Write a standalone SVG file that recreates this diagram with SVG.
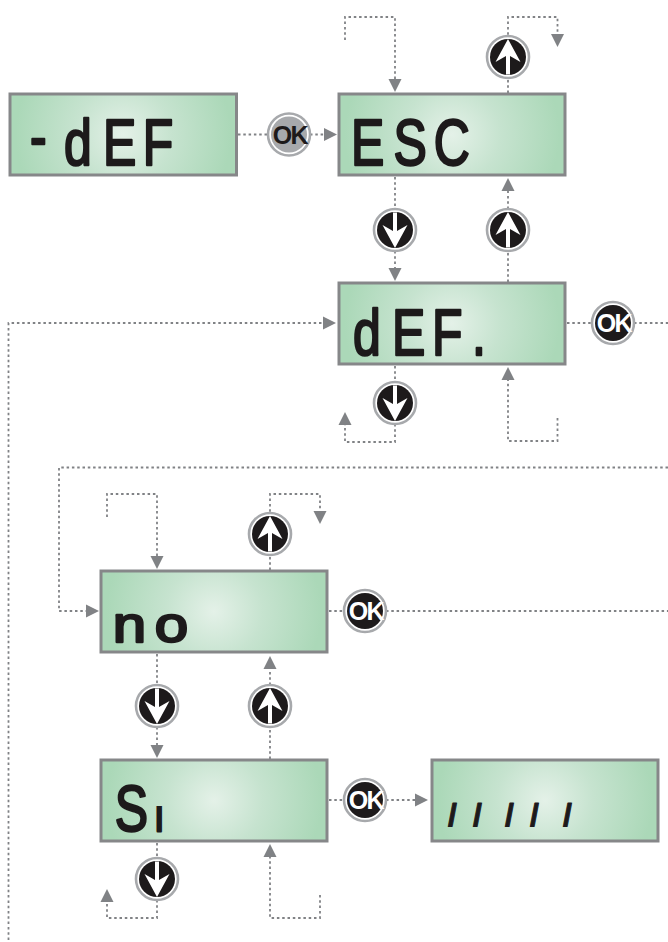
<svg xmlns="http://www.w3.org/2000/svg" width="668" height="942" viewBox="0 0 668 942">
<style>
.lcd{fill:url(#lcdg);stroke:#868789;stroke-width:3}
.seg{font-family:"Liberation Sans",Arial,sans-serif;font-weight:400;font-size:64px;fill:#1d1a1b;stroke:#1d1a1b;stroke-width:2.4;stroke-linejoin:round}
.ok{font-family:"Liberation Sans",Arial,sans-serif;font-weight:700;font-size:25px;letter-spacing:-1.6px;text-anchor:middle}
.dot{fill:none;stroke:#808285;stroke-width:1.8;stroke-dasharray:2.5 2.8}
.arr{marker-end:url(#ah)}
</style>
<defs>
<radialGradient id="lcdg" cx=".5" cy=".5" r=".5" gradientTransform="translate(.5 .5) scale(.95 2.6) translate(-.5 -.5)">
<stop offset="0" stop-color="#e4f1e8"/><stop offset=".45" stop-color="#c6e3cf"/><stop offset="1" stop-color="#abd8b8"/>
</radialGradient>
<marker id="ah" markerUnits="userSpaceOnUse" markerWidth="14" markerHeight="14" refX="0" refY="7" orient="auto"><path d="M0 .5L13 7L0 13.5Z" fill="#808285"/></marker>
<clipPath id="nodot"><rect x="100" y="770" width="52" height="70"/><rect x="152" y="806" width="18" height="34"/></clipPath>
<g id="ring"><circle r="21" fill="#fff" stroke="#a7a9ac" stroke-width="2.600"/></g>
<g id="btn"><use href="#ring"/><circle r="18" fill="#1d1a1b"/></g>
<g id="up"><use href="#btn"/><path d="M0-18L12.5 5L2-1V17.5H-2V-1L-12.5 5Z" fill="#fff"/></g>
<g id="down"><use href="#btn"/><path d="M0 18L12.5-5L2 1V-17.5H-2V1L-12.5-5Z" fill="#fff"/></g>
</defs>
<g id="connectors">
<path class="dot" d="M238 134.500H268"/><path class="dot arr" d="M310 134.500H324"/>
<path class="dot arr" d="M345 40V17H395V79"/>
<path class="dot arr" d="M508 93V17H557.500V34"/>
<path class="dot" d="M395 177V209"/><path class="dot arr" d="M395 251V268"/>
<path class="dot" d="M508 282V251"/><path class="dot arr" d="M508 209V191"/>
<path class="dot" d="M567 323H592M634 323H668"/>
<path class="dot arr" d="M8.500 940V323H323"/>
<path class="dot" d="M395 366V382"/><path class="dot arr" d="M395 424V442H345V425"/>
<path class="dot arr" d="M557.500 418V441H508V380"/>
<path class="dot arr" d="M668 467.500H59V611H86"/>
<path class="dot arr" d="M107 517V494H157V556"/>
<path class="dot arr" d="M270 570V494H320V511"/>
<path class="dot" d="M329 611H344M386 611H668"/>
<path class="dot" d="M157 654V685"/><path class="dot arr" d="M157 727V745"/>
<path class="dot" d="M270 759V727"/><path class="dot arr" d="M270 685V669"/>
<path class="dot" d="M329 800H344"/><path class="dot arr" d="M386 800H415"/>
<path class="dot" d="M157 843V858"/><path class="dot arr" d="M157 900V918H107V902"/>
<path class="dot arr" d="M320 895V918H270V857"/>
</g>
<g id="lcd-def-menu"><rect class="lcd" x="10" y="94" width="226.500" height="81"/><text class="seg" transform="translate(0 165) scale(.78 1)" x="38.500 82 132 183" dy="-6 6 0 0">-dEF</text></g>
<g id="lcd-esc"><rect class="lcd" x="339" y="94" width="226" height="81"/><text class="seg" transform="translate(0 165) scale(.78 1)" x="450 504.500 556">ESC</text></g>
<g id="lcd-def"><rect class="lcd" x="339" y="283" width="226" height="81"/><text class="seg" transform="translate(0 354.500) scale(.78 1)" x="452.500 502.500 554 605">dEF.</text></g>
<g id="lcd-no"><rect class="lcd" x="101" y="571" width="226" height="81"/><text class="seg" style="font-size:50px" transform="translate(0 642) scale(1.2 1)" x="94 129">no</text></g>
<g id="lcd-si"><rect class="lcd" x="101" y="760" width="226" height="81"/><g clip-path="url(#nodot)"><text class="seg" transform="translate(0 831) scale(.78 1)" x="147"><tspan>S</tspan><tspan x="199" style="font-size:46px;stroke-width:3">i</tspan></text></g></g>
<g id="lcd-progress"><rect class="lcd" x="432" y="760" width="226" height="81"/><text class="seg" style="font-size:32px;font-weight:700;stroke-width:1" x="448 473 505 530 563" y="826">/////</text></g>
<g id="btn-ok-grey"><use href="#ring" x="289" y="134.500"/><circle cx="289" cy="134.500" r="18" fill="#a7a9ac"/><text class="ok" x="289.800" y="143.500" fill="#1d1a1b">OK</text></g>
<g id="btn-up-1"><use href="#up" x="508" y="57"/></g>
<g id="btn-down-1"><use href="#down" x="395" y="230"/></g>
<g id="btn-up-2"><use href="#up" x="508" y="230"/></g>
<g id="btn-ok-1"><use href="#btn" x="613" y="323"/><text class="ok" x="613.800" y="332" fill="#fff">OK</text></g>
<g id="btn-down-2"><use href="#down" x="395" y="403"/></g>
<g id="btn-up-3"><use href="#up" x="270" y="534"/></g>
<g id="btn-ok-2"><use href="#btn" x="365" y="611"/><text class="ok" x="365.800" y="620" fill="#fff">OK</text></g>
<g id="btn-down-3"><use href="#down" x="157" y="706"/></g>
<g id="btn-up-4"><use href="#up" x="270" y="706"/></g>
<g id="btn-ok-3"><use href="#btn" x="365" y="800"/><text class="ok" x="365.800" y="809" fill="#fff">OK</text></g>
<g id="btn-down-4"><use href="#down" x="157" y="879"/></g>
</svg>
